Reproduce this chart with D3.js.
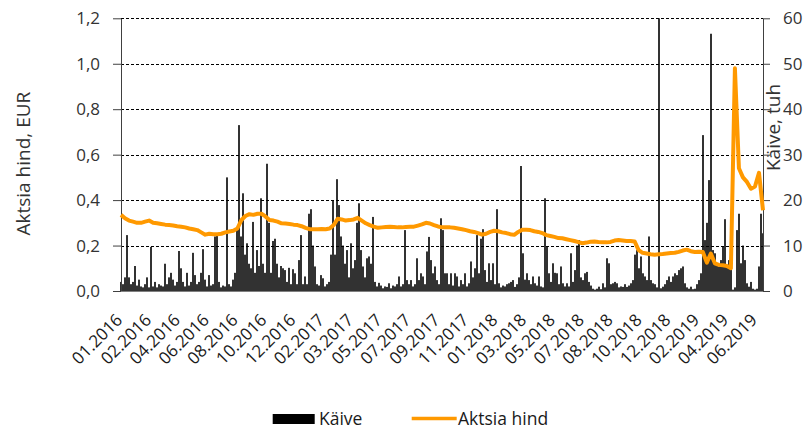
<!DOCTYPE html>
<html>
<head>
<meta charset="utf-8">
<script src="https://cdn.jsdelivr.net/npm/d3@7"></script>
<style>
    body { margin: 0; background: #fff; }
    text { font-family: "Open Sans", sans-serif; fill: #333; }
</style>
</head>
<body>
<div id="chart"></div>
<script>
// x axis labels (one every ~40 trading days)
const dateLabels = ["01.2016", "02.2016", "04.2016", "06.2016", "08.2016", "10.2016", "12.2016",
    "02.2017", "03.2017", "05.2017", "07.2017", "09.2017", "11.2017", "01.2018", "03.2018",
    "05.2018", "07.2018", "08.2018", "10.2018", "12.2018", "02.2019", "04.2019", "06.2019"];

// Käive, tuh (turnover, thousands), evenly spaced over the period
const turnover = [
    2, 1.5, 3, 12.3, 3, 1.5, 2, 5.5, 1.2, 2.5,
    1, 0.8, 1.5, 3, 0.8, 9.7, 1, 2, 0.8, 1.5,
    1.2, 1, 6, 1.5, 3, 4, 2.5, 1.2, 2, 8.8,
    5, 2, 1, 4, 1.2, 2, 8.4, 3.5, 1.5, 2,
    4, 9.2, 2.5, 1, 3.5, 1.2, 1.5, 12, 12.5, 2,
    0.8, 1.2, 1, 25, 1.5, 1, 2.5, 4, 13.5, 36.5,
    12, 21.5, 8, 10.5, 6, 5, 15.2, 4, 9, 5.5,
    20.4, 6, 4, 28, 15, 4, 11, 11.5, 6, 3,
    5.5,
    5, 4.6, 2, 5.1, 1.5, 4.8, 3.9, 1.5, 6.8, 12.3,
    1.5, 3.2, 1.5, 17, 18, 10, 5.4, 1.5, 1.2, 3.5,
    2.8, 1, 1.5, 2, 8, 19.8, 8, 24.6, 18.9, 12,
    10, 6, 9, 3, 10.5, 5, 6.8, 15, 19.3, 9,
    5.4, 3, 7.2, 7.6, 6, 16.3, 2, 1, 1.8, 1.2,
    0.6, 1, 0.9, 1.7, 0.6, 1.2, 1, 1.5, 3.2, 1,
    1.5, 13.4, 2.4, 1.5, 2.4, 1, 1.5, 7.2, 2.4, 3.9,
    3.2, 1.5, 8.7, 11.9, 6.8, 3.9, 5.4, 2.4, 1.5, 16, 13.4,
    3.9, 3.9, 1.5, 3.9, 1.2, 3.9, 3.2, 1, 2.4, 1.5,
    3.9, 1, 1.7, 6.5, 3, 5, 12.3, 3.9, 11.5, 13.6,
    4.6, 2, 6.1, 2.4, 6.1, 1.5, 18, 1.7, 0.8, 1.2,
    1, 1.5, 1.7, 2, 2.4, 0.9, 1.5, 3, 27.5, 8.3,
    2.5, 3.9, 2.4, 1.5, 3.2, 1.7, 1.2, 3.2, 1, 0.8,
    20.4, 9.7, 3.9, 2, 6.1, 4, 3.9, 1.5, 5.4, 1.7,
    1, 1.7, 1, 8.3, 2, 4.6, 10, 11.2, 3, 2.4,
    3.9, 4.2, 2, 1.2, 0.5, 0.3, 0.5, 0.95, 0.4, 1.7, 0.8,
    7.2, 6.1, 1.5, 1.7, 2, 1.7, 0.8, 1, 0.9, 1.5,
    0.9, 1.2, 1.7, 2.4, 8, 9, 5, 7.6, 3.9, 3.2,
    2.4, 12, 2.4, 1.7, 1.5, 0.8, 70, 0.6, 0.95, 1.5,
    2.4, 3.2, 2, 3.2, 3.9, 3.5, 4.6, 5, 5.4, 1.7,
    0.8, 0.5, 0.95, 0.4, 0.5, 1.5, 2.4, 3.9, 34.3,
    11.2, 15, 24.4, 56.6, 9, 8.3, 6.1, 5.4, 6.8, 9.7,
    15.8, 5.4, 6.8, 6.1, 0.3, 0.8, 13.4, 17, 6.1, 10,
    6.8, 1.7, 0.95, 2, 0.5, 0.3, 0.5, 5.4, 17, 12.7
];

// Aktsia hind, EUR (share price), evenly spaced over the period
const price = [
    0.335, 0.32, 0.31, 0.305, 0.30, 0.30, 0.305, 0.31, 0.30, 0.298,
    0.295, 0.292, 0.29, 0.288, 0.285, 0.283, 0.28, 0.275, 0.272, 0.268,
    0.258, 0.248, 0.252, 0.25, 0.25, 0.252, 0.258, 0.262, 0.265, 0.275,
    0.312, 0.33, 0.338, 0.335, 0.34, 0.34, 0.328, 0.312, 0.31, 0.305,
    0.298, 0.297, 0.295, 0.292, 0.29, 0.285, 0.278, 0.272, 0.272, 0.272,
    0.273, 0.272, 0.275, 0.29, 0.318, 0.315, 0.31, 0.312, 0.315, 0.322,
    0.31, 0.298, 0.29, 0.283, 0.278, 0.28, 0.282, 0.283, 0.282, 0.28,
    0.28, 0.282, 0.283, 0.283, 0.288, 0.293, 0.30, 0.297, 0.29, 0.284,
    0.28, 0.28, 0.28, 0.278, 0.275, 0.272, 0.268, 0.263, 0.26, 0.255,
    0.248, 0.252, 0.26, 0.265, 0.263, 0.258, 0.255, 0.25, 0.247, 0.26,
    0.27, 0.27, 0.268, 0.263, 0.26, 0.255, 0.246, 0.242, 0.238, 0.233,
    0.232, 0.228, 0.224, 0.22, 0.215, 0.21, 0.213, 0.217, 0.218, 0.216,
    0.215, 0.214, 0.216, 0.222, 0.224, 0.222, 0.22, 0.22, 0.218, 0.18,
    0.168, 0.165, 0.162, 0.16, 0.162, 0.163, 0.165, 0.167, 0.168, 0.172,
    0.178, 0.182, 0.175, 0.172, 0.173, 0.172, 0.125, 0.165, 0.122, 0.115,
    0.113, 0.11, 0.10, 0.98, 0.54, 0.50, 0.48, 0.45, 0.46, 0.52, 0.355
];

const priceTicks = [0, 0.2, 0.4, 0.6, 0.8, 1.0, 1.2];
const turnoverTicks = [0, 10, 20, 30, 40, 50, 60];

const width = 806, height = 429;
const plotLeft = 121, plotRight = 763, plotTop = 18.3, plotBottom = 291;

const svg = d3.select("#chart")
    .append("svg")
    .attr("width", width)
    .attr("height", height);

const yPrice = d3.scaleLinear().domain([0, 1.2]).range([plotBottom, plotTop]);
const yTurn = d3.scaleLinear().domain([0, 60]).range([plotBottom, plotTop]);
const xDay = d3.scaleLinear().domain([0, turnover.length - 1]).range([plotLeft, plotRight]);
const xPrice = d3.scaleLinear().domain([0, price.length - 1]).range([plotLeft, plotRight]);
const xLabel = d3.scalePoint().domain(dateLabels).range([plotLeft, plotLeft + 22 * 28.85]);

svg.append("clipPath")
    .attr("id", "plot-clip")
    .append("rect")
    .attr("x", plotLeft - 2)
    .attr("y", plotTop)
    .attr("width", plotRight - plotLeft + 4)
    .attr("height", plotBottom - plotTop);

// gridlines
svg.append("g")
    .selectAll("line")
    .data(priceTicks.slice(1))
    .enter().append("line")
    .attr("x1", plotLeft)
    .attr("x2", plotRight)
    .attr("y1", d => Math.round(yPrice(d)) + 0.5)
    .attr("y2", d => Math.round(yPrice(d)) + 0.5)
    .attr("stroke", "#000")
    .attr("stroke-width", 1)
    .attr("stroke-dasharray", "3,2");

// turnover bars
svg.append("g")
    .attr("clip-path", "url(#plot-clip)")
    .selectAll("rect")
    .data(turnover)
    .enter().append("rect")
    .attr("x", (d, i) => xDay(i) - 0.8)
    .attr("width", 1.6)
    .attr("y", d => yTurn(d))
    .attr("height", d => plotBottom - yTurn(d))
    .attr("fill", "#000");

const fmt = d => d3.format(".1f")(d).replace(".", ",");

const axisL = svg.append("g")
    .attr("transform", `translate(${plotLeft},0)`)
    .call(d3.axisLeft(yPrice).tickValues(priceTicks).tickFormat(fmt).tickSize(8).tickSizeOuter(0).tickPadding(13));

const axisR = svg.append("g")
    .attr("transform", `translate(${plotRight},0)`)
    .call(d3.axisRight(yTurn).tickValues(turnoverTicks).tickSize(7).tickSizeOuter(0).tickPadding(13));

[axisL, axisR].forEach(a => {
    a.select(".domain").attr("stroke", "#404040");
    a.selectAll(".tick line").attr("stroke", "#404040");
    a.selectAll(".tick text")
        .style("font-family", "'Open Sans', sans-serif")
        .style("font-size", "17px")
        .attr("fill", "#404040");
});

// category axis
svg.append("line")
    .attr("x1", plotLeft)
    .attr("x2", plotRight)
    .attr("y1", plotBottom + 0.5)
    .attr("y2", plotBottom + 0.5)
    .attr("stroke", "#808080")
    .attr("stroke-width", 1.2);

svg.append("g")
    .selectAll("text")
    .data(dateLabels)
    .enter().append("text")
    .attr("text-anchor", "end")
    .attr("transform", d => `translate(${xLabel(d) + 2.5},${plotBottom + 30}) rotate(-45)`)
    .style("font-size", "17px")
    .style("fill", "#1a1a1a")
    .text(d => d);

// price line
svg.append("path")
    .datum(price)
    .attr("fill", "none")
    .attr("stroke", "#FF9900")
    .attr("stroke-width", 4)
    .attr("stroke-linejoin", "round")
    .attr("d", d3.line().x((d, i) => xPrice(i)).y(d => yPrice(d)));

// axis titles
svg.append("text")
    .attr("transform", `translate(30,${(plotTop + plotBottom) / 2 + 9}) rotate(-90)`)
    .attr("text-anchor", "middle")
    .style("font-size", "19px")
    .text("Aktsia hind, EUR");

svg.append("text")
    .attr("transform", "translate(780,127.5) rotate(-90)")
    .attr("text-anchor", "middle")
    .style("font-size", "19px")
    .text("Käive, tuh");

// legend
const legend = svg.append("g");
legend.append("rect")
    .attr("x", 272.7).attr("y", 414)
    .attr("width", 42).attr("height", 10)
    .attr("fill", "#000");
legend.append("text")
    .attr("x", 319).attr("y", 424.5)
    .style("font-size", "17.5px")
    .style("fill", "#1a1a1a")
    .text("Käive");
legend.append("line")
    .attr("x1", 411.7).attr("x2", 456.7)
    .attr("y1", 418.5).attr("y2", 418.5)
    .attr("stroke", "#FF9900")
    .attr("stroke-width", 3.5);
legend.append("text")
    .attr("x", 458).attr("y", 424.5)
    .style("font-size", "17.5px")
    .style("fill", "#1a1a1a")
    .text("Aktsia hind");
</script>
</body>
</html>
